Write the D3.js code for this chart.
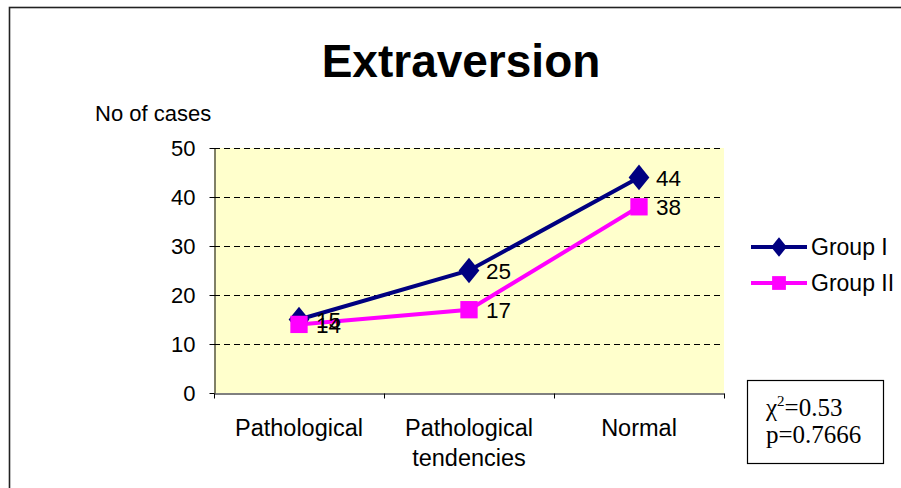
<!DOCTYPE html>
<html>
    <head>
        <meta charset="UTF-8">
        <script src="https://cdn.jsdelivr.net/npm/d3@7"></script>
        <title>Extraversion</title>
        <style>
            body { margin: 0; background: white; }
            svg text { font-family: "Liberation Sans", Arial, sans-serif; }
        </style>
    </head>
    <body>
        <div id="ChartContainer"></div>
    </body>
    <script>
        // values
        const categories = ["Pathological", "Pathological tendencies", "Normal"]
        const group_1 = [15, 25, 44]
        const group_2 = [14, 17, 38]
        const series_names = ["Group I", "Group II"]
        const y_ticks = [0, 10, 20, 30, 40, 50]
        const stats_lines = ["=0.53", "p=0.7666"]

        const width = 901
        const height = 488
        const plot = {left: 214, right: 724, top: 148, bottom: 393}

        const svg = d3.select("#ChartContainer")
            .append("svg")
            .attr("width", width)
            .attr("height", height)

        // outer frame (only top and left edges are inside the picture)
        svg.append("rect")
            .attr("x", 9.5)
            .attr("y", 7.5)
            .attr("width", 1000)
            .attr("height", 1000)
            .attr("fill", "none")
            .attr("stroke", "#222")
            .attr("stroke-width", 1.6)

        const x = d3.scaleBand()
            .domain(categories)
            .range([plot.left, plot.right])

        const y = d3.scaleLinear()
            .domain([0, 50])
            .range([plot.bottom, plot.top])

        svg.append("rect")
            .attr("x", plot.left)
            .attr("y", plot.top)
            .attr("width", plot.right - plot.left)
            .attr("height", plot.bottom - plot.top)
            .attr("fill", "#ffffcc")

        // dashed gridlines
        svg.selectAll(".grid")
            .data(y_ticks.filter(t => t > 0))
            .enter()
            .append("line")
            .attr("x1", plot.left)
            .attr("x2", plot.right)
            .attr("y1", t => Math.round(y(t)) + 0.5)
            .attr("y2", t => Math.round(y(t)) + 0.5)
            .attr("stroke", "black")
            .attr("stroke-dasharray", "6,4")

        const y_axis = svg.append("g")
            .attr("transform", `translate(${plot.left + 0.5},0)`)
            .call(d3.axisLeft(y).tickValues(y_ticks).tickSize(5).tickPadding(14).tickSizeOuter(0))
        y_axis.select(".domain").attr("stroke", "black")
        y_axis.selectAll("text").style("font-size", "22px").attr("fill", "black").attr("dy", "0.36em")

        const x_axis = svg.append("g")
            .attr("transform", `translate(0,${plot.bottom + 0.5})`)
            .call(d3.axisBottom(x).tickSize(0).tickPadding(0))
        x_axis.select(".domain").attr("stroke", "black")
        x_axis.selectAll("text").remove()

        // ticks sit on the band edges
        const edges = categories.map(c => x(c)).concat([x(categories[categories.length - 1]) + x.bandwidth()])
        x_axis.selectAll(".edge")
            .data(edges)
            .enter()
            .append("line")
            .attr("x1", e => Math.round(e) + 0.5)
            .attr("x2", e => Math.round(e) + 0.5)
            .attr("y1", 0)
            .attr("y2", 5)
            .attr("stroke", "black")

        x_axis.selectAll(".cat")
            .data(categories)
            .enter()
            .append("text")
            .attr("fill", "black")
            .attr("text-anchor", "middle")
            .attr("x", c => x(c) + x.bandwidth() / 2)
            .attr("y", 42)
            .style("font-size", "23.5px")
            .each(function (c) {
                c.split(" ").forEach((word, i) => {
                    d3.select(this).append("tspan")
                        .attr("x", x(c) + x.bandwidth() / 2)
                        .attr("dy", i === 0 ? 0 : 30)
                        .text(word)
                })
            })

        const line = d3.line()
            .x((v, i) => x(categories[i]) + x.bandwidth() / 2)
            .y(v => y(v))

        const series = [
            {name: series_names[0], values: group_1, color: "#000080", diamond: true, size: 190},
            {name: series_names[1], values: group_2, color: "#ff00ff", diamond: false, size: 300}
        ]

        series.forEach(s => {
            svg.append("path")
                .datum(s.values)
                .attr("d", line)
                .attr("fill", "none")
                .attr("stroke", s.color)
                .attr("stroke-width", 4)
        })

        series.forEach(s => {
            svg.selectAll(null)
                .data(s.values)
                .enter()
                .append("path")
                .attr("d", d3.symbol().type(s.diamond ? d3.symbolDiamond : d3.symbolSquare).size(s.size))
                .attr("transform", (v, i) => `translate(${x(categories[i]) + x.bandwidth() / 2},${y(v)})` + (s.diamond ? " scale(1.4,1)" : ""))
                .attr("fill", s.color)
        })

        series.forEach(s => {
            svg.selectAll(null)
                .data(s.values)
                .enter()
                .append("text")
                .attr("x", (v, i) => x(categories[i]) + x.bandwidth() / 2 + 17)
                .attr("y", v => y(v))
                .attr("dy", "0.36em")
                .style("font-size", "22.5px")
                .text(v => v)
        })

        // title and axis title
        svg.append("text")
            .attr("x", 461)
            .attr("y", 77)
            .attr("text-anchor", "middle")
            .style("font-size", "46px")
            .style("font-weight", "bold")
            .text("Extraversion")

        svg.append("text")
            .attr("x", 95)
            .attr("y", 121)
            .style("font-size", "22px")
            .text("No of cases")

        // legend
        const legend = svg.append("g")
            .attr("transform", "translate(751,247)")
        series.forEach((s, i) => {
            const row = legend.append("g").attr("transform", `translate(0,${i * 36})`)
            row.append("line")
                .attr("x1", 0)
                .attr("x2", 56)
                .attr("stroke", s.color)
                .attr("stroke-width", 4)
            row.append("path")
                .attr("d", d3.symbol().type(s.diamond ? d3.symbolDiamond : d3.symbolSquare).size(s.diamond ? 110 : 190))
                .attr("transform", "translate(28,0)" + (s.diamond ? " scale(1.4,1)" : ""))
                .attr("fill", s.color)
            row.append("text")
                .attr("x", 60)
                .attr("dy", "0.36em")
                .style("font-size", "23px")
                .text(s.name)
        })

        // chi-square box
        const stats = svg.append("g")
        stats.append("rect")
            .attr("x", 747.5)
            .attr("y", 380.5)
            .attr("width", 136)
            .attr("height", 83)
            .attr("fill", "white")
            .attr("stroke", "black")
            .attr("stroke-width", 1.2)
        const chi = stats.append("text")
            .attr("x", 766)
            .attr("y", 416)
            .style("font-family", "'Liberation Serif', 'Times New Roman', serif")
            .style("font-size", "25px")
        chi.append("tspan").text("\u03c7")
        chi.append("tspan").attr("dy", -10).style("font-size", "15px").text("2")
        chi.append("tspan").attr("dy", 10).text(stats_lines[0])
        stats.append("text")
            .attr("x", 766)
            .attr("y", 443)
            .style("font-family", "'Liberation Serif', 'Times New Roman', serif")
            .style("font-size", "25px")
            .text(stats_lines[1])
    </script>
</html>
